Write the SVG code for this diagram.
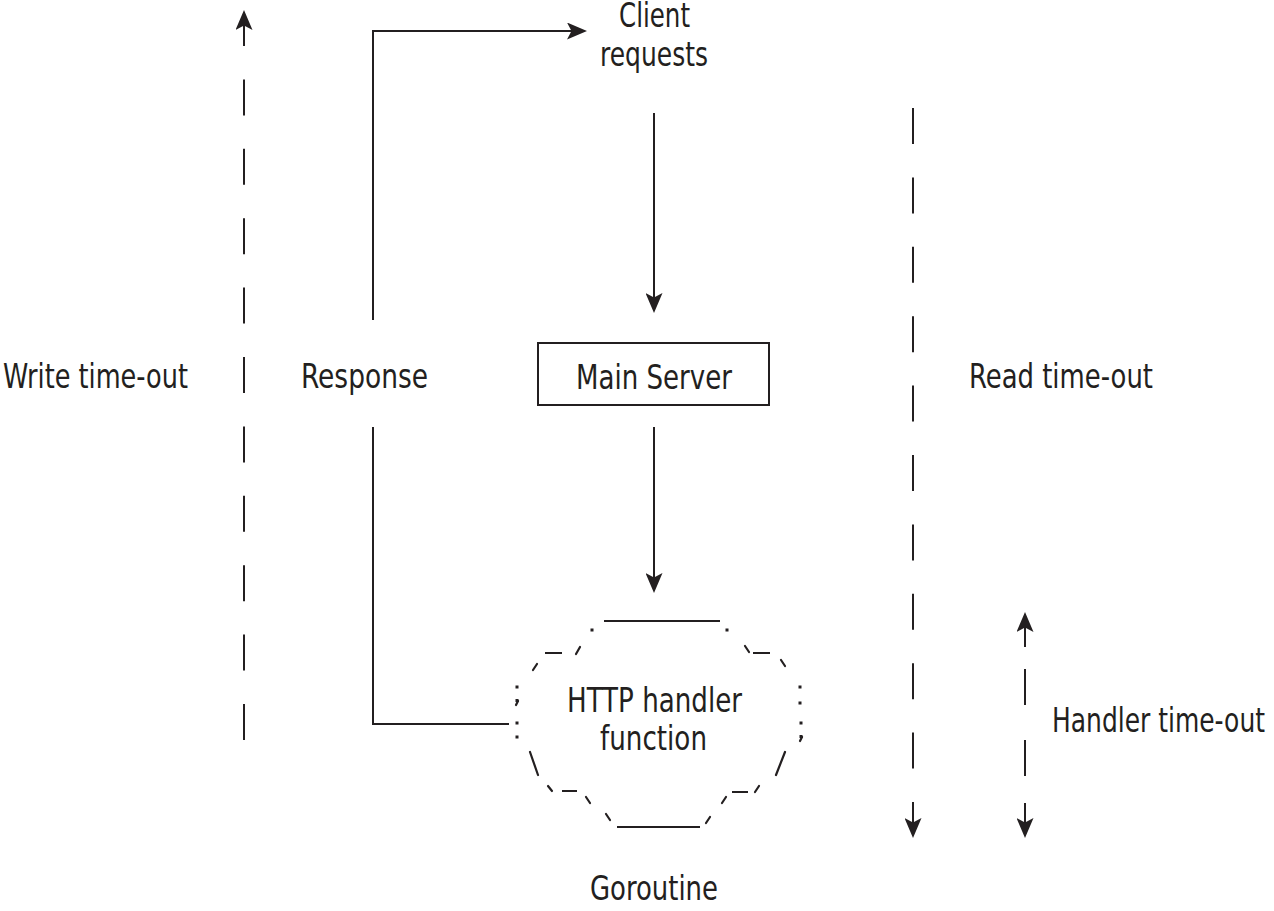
<svg xmlns="http://www.w3.org/2000/svg" width="1274" height="911" viewBox="0 0 1274 911">
  <style>
    .t { font-family: "Liberation Sans Narrow", "DejaVu Sans Condensed", "Liberation Sans", sans-serif; font-size: 33px; fill: #231f20; }
    .ln { fill: none; stroke: #231f20; stroke-width: 2; }
    .dash { fill: none; stroke: #231f20; stroke-width: 2; stroke-dasharray: 36 33.4; }
    .tick { fill: none; stroke: #231f20; stroke-width: 2.2; stroke-linecap: round; }
    .dot { fill: #231f20; }
  </style>
  <defs>
    <marker id="arr" markerUnits="userSpaceOnUse" markerWidth="20" markerHeight="17" viewBox="0 0 20 17" refX="6" refY="8.5" orient="auto">
      <path d="M0,0 L20,8.5 L0,17 L4.5,8.5 Z" fill="#231f20"/>
    </marker>
  </defs>
  <rect width="1274" height="911" fill="#ffffff"/>

  <g id="connectors">
    <!-- Client requests -> Main Server -->
    <path class="ln" d="M654,113 L654,299" marker-end="url(#arr)"/>
    <!-- Main Server -> HTTP handler -->
    <path class="ln" d="M654,427 L654,579" marker-end="url(#arr)"/>
    <!-- Response upper elbow to Client requests -->
    <path class="ln" d="M373,320 L373,31 L573,31" marker-end="url(#arr)"/>
    <!-- Response lower elbow from handler -->
    <path class="ln" d="M373,427 L373,724 L509,724"/>
    <!-- Write time-out dashed up arrow -->
    <path class="dash" d="M244,740 L244,24" marker-end="url(#arr)"/>
    <!-- Read time-out dashed down arrow -->
    <path class="dash" d="M913,108 L913,824" marker-end="url(#arr)"/>
    <!-- Handler time-out dashed double arrow -->
    <path class="ln" d="M1025,647 L1025,626" marker-end="url(#arr)"/>
    <path class="ln" d="M1025,669 L1025,705 M1025,740 L1025,776"/>
    <path class="ln" d="M1025,803 L1025,824" marker-end="url(#arr)"/>
  </g>

  <g id="client-requests">
    <text class="t" x="619" y="27" textLength="71" lengthAdjust="spacingAndGlyphs">Client</text>
    <text class="t" x="600" y="66" textLength="108" lengthAdjust="spacingAndGlyphs">requests</text>
  </g>

  <g id="main-server">
    <rect x="538" y="343" width="231" height="62" fill="none" stroke="#231f20" stroke-width="2"/>
    <text class="t" x="576" y="389" textLength="156" lengthAdjust="spacingAndGlyphs">Main Server</text>
  </g>

  <g id="write-timeout">
    <text class="t" x="3" y="388" textLength="185" lengthAdjust="spacingAndGlyphs">Write time-out</text>
  </g>

  <g id="response">
    <text class="t" x="301" y="388" textLength="127" lengthAdjust="spacingAndGlyphs">Response</text>
  </g>

  <g id="read-timeout">
    <text class="t" x="969" y="388" textLength="184" lengthAdjust="spacingAndGlyphs">Read time-out</text>
  </g>

  <g id="handler-timeout">
    <text class="t" x="1052" y="732" textLength="213" lengthAdjust="spacingAndGlyphs">Handler time-out</text>
  </g>

  <g id="http-handler">
    <!-- dotted cloud outline -->
    <path class="ln" d="M604,621 L720,621"/>
    <rect class="dot" x="590.5" y="628.5" width="3" height="3"/>
    <rect class="dot" x="725.5" y="628.5" width="3" height="3"/>
    <path class="ln" d="M545,653 L562,653"/>
    <path class="tick" d="M576,654 L580,647"/>
    <path class="tick" d="M533,670 L537,664"/>
    <path class="tick" d="M745,646 L749,652"/>
    <path class="ln" d="M753,653 L770,653"/>
    <path class="tick" d="M781,660 L785,666"/>
    <!-- left side ; : -->
    <rect class="dot" x="515.5" y="685.5" width="3" height="3"/>
    <rect class="dot" x="515.5" y="699" width="3" height="3"/>
    <path class="tick" d="M518,701 L516,705"/>
    <rect class="dot" x="515.5" y="721.5" width="3" height="3"/>
    <rect class="dot" x="515.5" y="735.5" width="3" height="3"/>
    <!-- right side : ; -->
    <rect class="dot" x="798.5" y="685.5" width="3" height="3"/>
    <rect class="dot" x="798.5" y="701.5" width="3" height="3"/>
    <rect class="dot" x="799.5" y="721.5" width="3" height="3"/>
    <rect class="dot" x="799.5" y="735" width="3" height="3"/>
    <path class="tick" d="M802,737 L800,741"/>
    <!-- lower left -->
    <path class="tick" d="M530,752 L538,775"/>
    <path class="tick" d="M548,786 L552,791"/>
    <path class="ln" d="M562,791 L577,791"/>
    <path class="tick" d="M586,797 L590,803"/>
    <!-- lower right -->
    <path class="tick" d="M785,752 L776,775"/>
    <path class="tick" d="M759,786 L755,792"/>
    <path class="ln" d="M732,792 L748,792"/>
    <path class="tick" d="M726,797 L722,803"/>
    <!-- bottom -->
    <path class="tick" d="M606,814 L610,820"/>
    <path class="ln" d="M617,827 L700,827"/>
    <path class="tick" d="M710,817 L706,823"/>
    <text class="t" x="567" y="712" textLength="175" lengthAdjust="spacingAndGlyphs">HTTP handler</text>
    <text class="t" x="600" y="750" textLength="107" lengthAdjust="spacingAndGlyphs">function</text>
  </g>

  <g id="goroutine">
    <text class="t" x="590" y="900" textLength="128" lengthAdjust="spacingAndGlyphs">Goroutine</text>
  </g>
</svg>
